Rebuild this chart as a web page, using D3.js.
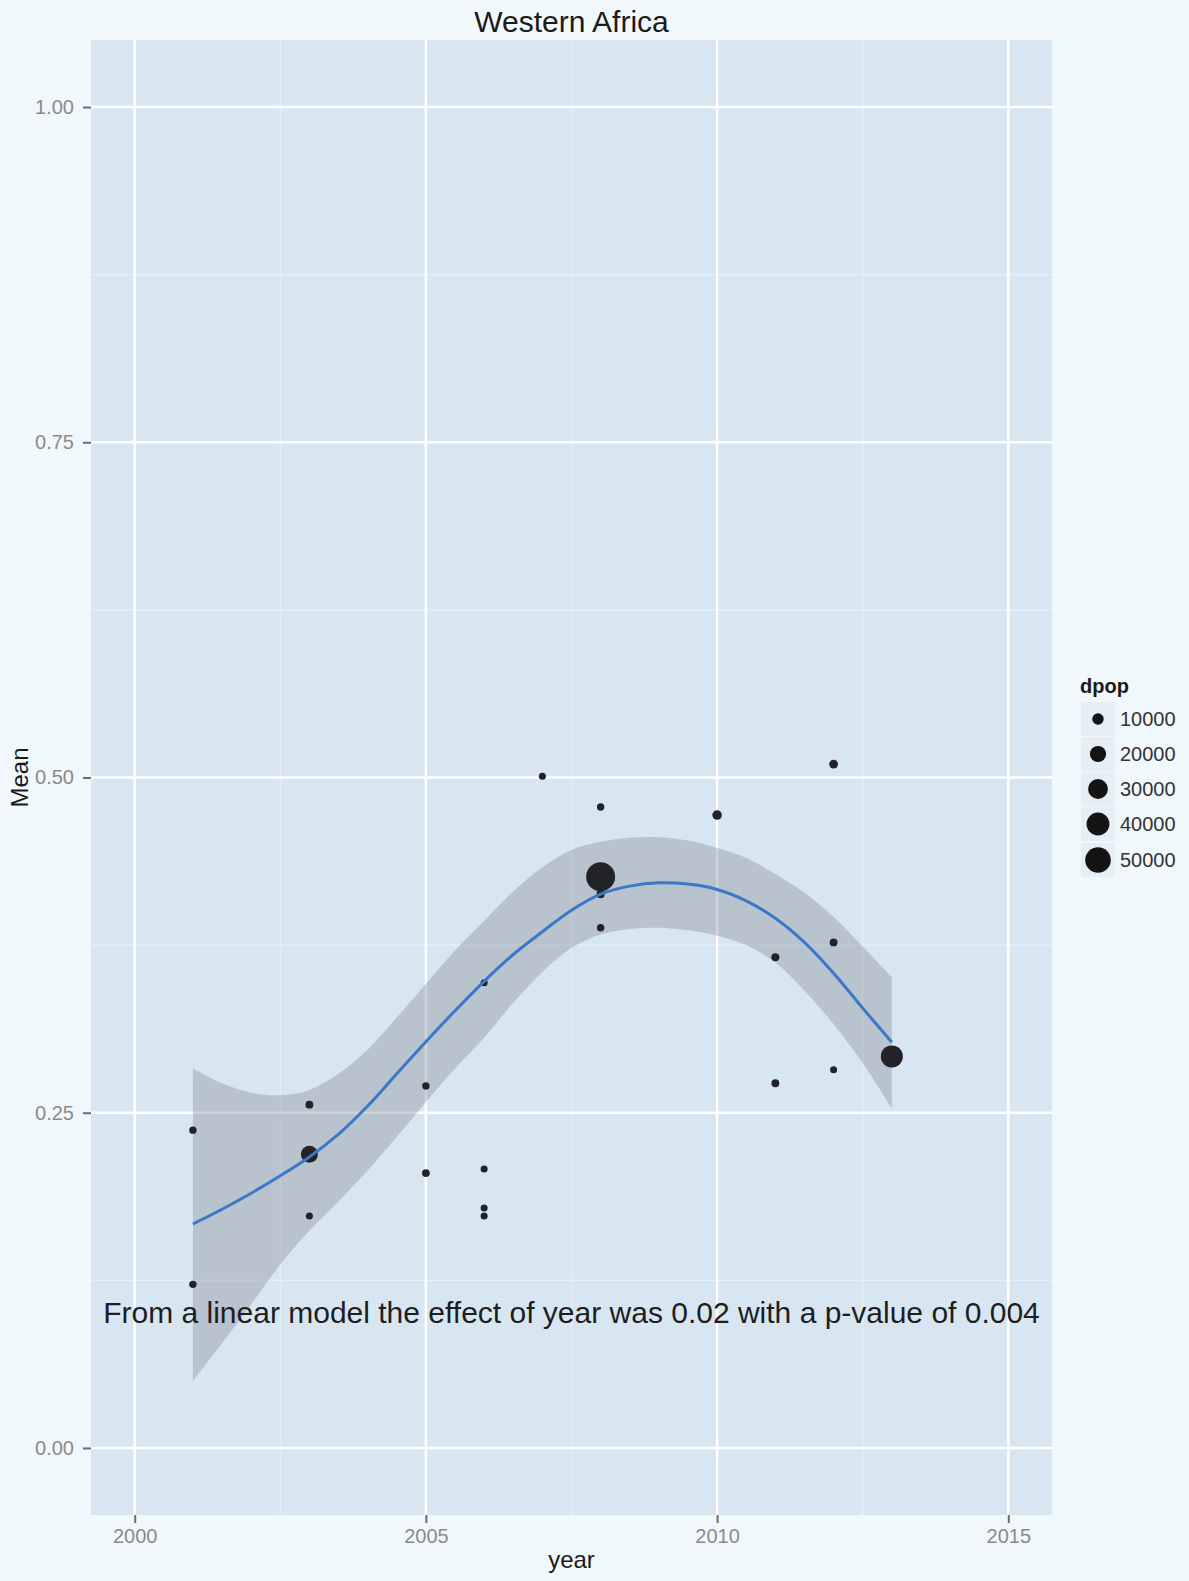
<!DOCTYPE html>
<html>
<head>
<meta charset="utf-8">
<script src="https://cdn.jsdelivr.net/npm/d3@7"></script>
<style>
  html, body { margin: 0; padding: 0; background: #f1f8fc; }
  svg { display: block; font-family: "Liberation Sans", Arial, Helvetica, sans-serif; }
</style>
</head>
<body>
<svg id="chart" width="1189" height="1581"></svg>
<script>
// ---------- data ----------
const titleText = "Western Africa";
const xLabel = "year";
const yLabel = "Mean";
const legendTitle = "dpop";
const annotationText = "From a linear model the effect of year was 0.02 with a p-value of 0.004";

const pointYears = [2001, 2001, 2003, 2003, 2003, 2005, 2005, 2006, 2006, 2006, 2006, 2007,
                    2008, 2008, 2008, 2008, 2010, 2011, 2011, 2012, 2012, 2012, 2013];
const pointMeans = [0.237, 0.122, 0.256, 0.219, 0.173, 0.270, 0.205, 0.347, 0.208, 0.179, 0.173, 0.501,
                    0.478, 0.426, 0.413, 0.388, 0.472, 0.366, 0.272, 0.510, 0.377, 0.282, 0.292];
const pointDpop  = [4200, 4200, 4700, 22000, 3800, 4200, 4700, 3800, 3800, 3800, 3800, 3800,
                    4200, 64000, 5000, 4200, 7000, 5000, 4700, 6000, 4700, 3800, 37000];

const smoothYears = [2001, 2001.5, 2002, 2002.5, 2003, 2003.5, 2004, 2004.5, 2005, 2005.5, 2006, 2006.5,
                     2007, 2007.5, 2008, 2008.5, 2009, 2009.5, 2010, 2010.5, 2011, 2011.5, 2012, 2012.5, 2013];
const smoothFit   = [0.167, 0.178, 0.190, 0.203, 0.217, 0.234, 0.255, 0.279, 0.303, 0.326, 0.348, 0.368,
                     0.385, 0.401, 0.413, 0.419, 0.4215, 0.4205, 0.4165, 0.408, 0.395, 0.377, 0.354, 0.328, 0.3025];
const smoothUpper = [0.283, 0.272, 0.265, 0.263, 0.267, 0.279, 0.297, 0.321, 0.346, 0.371, 0.393, 0.415,
                     0.433, 0.446, 0.452, 0.455, 0.4555, 0.453, 0.4475, 0.440, 0.428, 0.414, 0.396, 0.374, 0.351];
const smoothLower = [0.050, 0.078, 0.107, 0.137, 0.162, 0.184, 0.207, 0.232, 0.258, 0.283, 0.306, 0.332,
                     0.355, 0.373, 0.383, 0.387, 0.388, 0.386, 0.382, 0.375, 0.362, 0.341, 0.316, 0.287, 0.253];

const xTicks = [2000, 2005, 2010, 2015];
const xMinor = [2002.5, 2007.5, 2012.5];
const yTicks = [0, 0.25, 0.5, 0.75, 1.0];
const yMinor = [0.125, 0.375, 0.625, 0.875];
const legendValues = [10000, 20000, 30000, 40000, 50000];

// ---------- layout ----------
const svg = d3.select("#chart");
const panel = { left: 91, right: 1052, top: 40, bottom: 1515 };

const x = d3.scaleLinear().domain([1999.25, 2015.75]).range([panel.left, panel.right]);
const y = d3.scaleLinear().domain([-0.05, 1.05]).range([panel.bottom, panel.top]);
const r = d3.scaleSqrt().domain([0, 50000]).range([0, 12.8]);

// page background
svg.append("rect").attr("width", 1189).attr("height", 1581).attr("fill", "#f1f8fc");

// panel background
svg.append("rect")
  .attr("x", panel.left).attr("y", panel.top)
  .attr("width", panel.right - panel.left).attr("height", panel.bottom - panel.top)
  .attr("fill", "#d8e6f1");

// grid
const grid = svg.append("g");
grid.selectAll(".yminor").data(yMinor).join("line")
  .attr("x1", panel.left).attr("x2", panel.right)
  .attr("y1", d => y(d)).attr("y2", d => y(d))
  .attr("stroke", "#e7f0f8").attr("stroke-width", 1.2);
grid.selectAll(".xminor").data(xMinor).join("line")
  .attr("y1", panel.top).attr("y2", panel.bottom)
  .attr("x1", d => x(d)).attr("x2", d => x(d))
  .attr("stroke", "#e7f0f8").attr("stroke-width", 1.2);
grid.selectAll(".ymajor").data(yTicks).join("line")
  .attr("x1", panel.left).attr("x2", panel.right)
  .attr("y1", d => y(d)).attr("y2", d => y(d))
  .attr("stroke", "#ffffff").attr("stroke-width", 2.4);
grid.selectAll(".xmajor").data(xTicks).join("line")
  .attr("y1", panel.top).attr("y2", panel.bottom)
  .attr("x1", d => x(d)).attr("x2", d => x(d))
  .attr("stroke", "#ffffff").attr("stroke-width", 2.4);

// smooth ribbon + line
const smooth = smoothYears.map((yr, i) => ({ yr, fit: smoothFit[i], lo: smoothLower[i], hi: smoothUpper[i] }));
svg.append("path")
  .datum(smooth)
  .attr("d", d3.area().x(d => x(d.yr)).y0(d => y(d.lo)).y1(d => y(d.hi)).curve(d3.curveCatmullRom.alpha(0.5)))
  .attr("fill", "#8c939e").attr("fill-opacity", 0.42);

// points
const pts = pointYears.map((yr, i) => ({ yr, m: pointMeans[i], s: pointDpop[i] }));
svg.append("g").selectAll("circle").data(pts).join("circle")
  .attr("cx", d => x(d.yr)).attr("cy", d => y(d.m)).attr("r", d => r(d.s))
  .attr("fill", "#222326");

svg.append("path")
  .datum(smooth)
  .attr("d", d3.line().x(d => x(d.yr)).y(d => y(d.fit)).curve(d3.curveCatmullRom.alpha(0.5)))
  .attr("fill", "none").attr("stroke", "#3a78c8").attr("stroke-width", 3);

// annotation
svg.append("text")
  .attr("x", x(2007.5)).attr("y", 1323)
  .attr("text-anchor", "middle")
  .attr("font-size", 30).attr("fill", "#1e1e1e")
  .text(annotationText);

// axes
const yAxis = svg.append("g")
  .attr("transform", `translate(${panel.left},0)`)
  .call(d3.axisLeft(y).tickValues(yTicks).tickFormat(d3.format(".2f")).tickSizeInner(8).tickSizeOuter(0).tickPadding(9));
const xAxis = svg.append("g")
  .attr("transform", `translate(0,${panel.bottom})`)
  .call(d3.axisBottom(x).tickValues(xTicks).tickFormat(d3.format("d")).tickSizeInner(8).tickSizeOuter(0).tickPadding(6));
[yAxis, xAxis].forEach(a => {
  a.select(".domain").remove();
  a.selectAll(".tick line").attr("stroke", "#6e6e6e").attr("stroke-width", 2);
  a.selectAll(".tick text").attr("fill", "#8a8a8a").attr("font-size", 20)
    .attr("font-family", "'Liberation Sans', Arial, sans-serif");
});
xAxis.selectAll(".tick text").attr("dy", "0.71em");

// title & axis labels
svg.append("text")
  .attr("x", (panel.left + panel.right) / 2).attr("y", 32)
  .attr("text-anchor", "middle").attr("font-size", 30).attr("fill", "#1a1a1a")
  .text(titleText);
svg.append("text")
  .attr("x", (panel.left + panel.right) / 2).attr("y", 1568)
  .attr("text-anchor", "middle").attr("font-size", 24).attr("fill", "#1a1a1a")
  .text(xLabel);
svg.append("text")
  .attr("transform", `translate(28,${(panel.top + panel.bottom) / 2}) rotate(-90)`)
  .attr("text-anchor", "middle").attr("font-size", 24).attr("fill", "#1a1a1a")
  .text(yLabel);

// legend
const lg = svg.append("g");
lg.append("text")
  .attr("x", 1080).attr("y", 693)
  .attr("font-size", 20).attr("font-weight", "bold").attr("fill", "#1a1a1a")
  .text(legendTitle);
const keyY = [719, 754, 789, 824, 860];
const keys = lg.selectAll("g.key").data(legendValues).join("g")
  .attr("class", "key")
  .attr("transform", (d, i) => `translate(0,${keyY[i]})`);
keys.append("rect")
  .attr("x", 1081).attr("y", -17).attr("width", 34).attr("height", 34)
  .attr("fill", "#e6eff6");
keys.append("circle")
  .attr("cx", 1098).attr("cy", 0).attr("r", d => r(d))
  .attr("fill", "#141414");
keys.append("text")
  .attr("x", 1120).attr("y", 7)
  .attr("font-size", 20).attr("fill", "#333")
  .text(d => d);
</script>
</body>
</html>
